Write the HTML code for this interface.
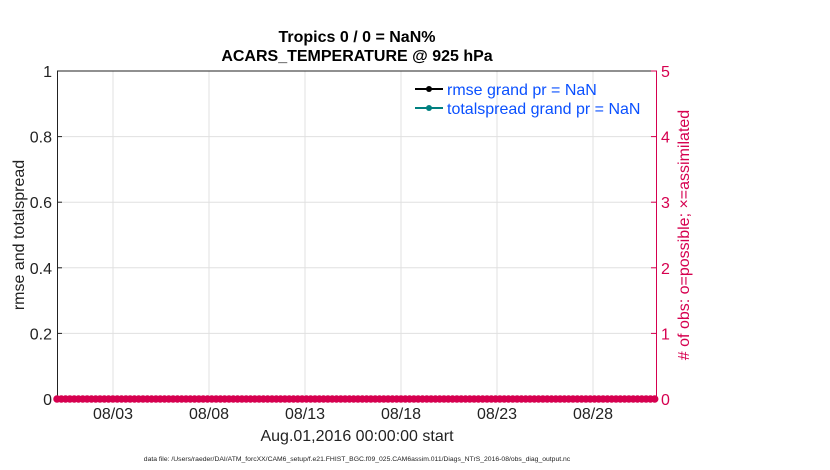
<!DOCTYPE html>
<html><head><meta charset="utf-8"><style>
html,body{margin:0;padding:0;background:#fff;}
svg{display:block;font-family:"Liberation Sans",Arial,sans-serif;}
</style></head><body>
<svg width="830" height="470" viewBox="0 0 830 470" xmlns="http://www.w3.org/2000/svg">
<rect width="830" height="470" fill="#fff"/>
<g stroke="#e0e0e0" stroke-width="1">
<line x1="113" y1="71" x2="113" y2="399"/>
<line x1="209" y1="71" x2="209" y2="399"/>
<line x1="305" y1="71" x2="305" y2="399"/>
<line x1="401" y1="71" x2="401" y2="399"/>
<line x1="497" y1="71" x2="497" y2="399"/>
<line x1="593" y1="71" x2="593" y2="399"/>
<line x1="57" y1="136.6" x2="657" y2="136.6"/>
<line x1="57" y1="202.2" x2="657" y2="202.2"/>
<line x1="57" y1="267.8" x2="657" y2="267.8"/>
<line x1="57" y1="333.4" x2="657" y2="333.4"/>
</g>
<line x1="57" y1="71" x2="657" y2="71" stroke="#222" stroke-width="1"/>
<line x1="57.5" y1="71" x2="57.5" y2="399" stroke="#222" stroke-width="1"/>
<line x1="656.5" y1="71" x2="656.5" y2="399" stroke="#d6004f" stroke-width="1"/>
<g stroke="#222">
<line x1="57" y1="136.6" x2="62" y2="136.6"/><line x1="57" y1="202.2" x2="62" y2="202.2"/>
<line x1="57" y1="267.8" x2="62" y2="267.8"/><line x1="57" y1="333.4" x2="62" y2="333.4"/>
</g>
<g stroke="#d6004f">
<line x1="651" y1="136.6" x2="657" y2="136.6"/><line x1="651" y1="202.2" x2="657" y2="202.2"/>
<line x1="651" y1="267.8" x2="657" y2="267.8"/><line x1="651" y1="333.4" x2="657" y2="333.4"/>
<line x1="651" y1="71" x2="657" y2="71"/>
</g>
<line x1="57" y1="399" x2="657" y2="399" stroke="#d6004f" stroke-width="4"/>
<line x1="57" y1="399" x2="657" y2="399" stroke="#d6004f" stroke-width="7.5" stroke-linecap="round" stroke-dasharray="0 4.3"/>
<g font-size="16" fill="#222" text-anchor="end">
<text x="52" y="77">1</text><text x="52" y="142.6">0.8</text><text x="52" y="208.2">0.6</text>
<text x="52" y="273.8">0.4</text><text x="52" y="339.4">0.2</text><text x="52" y="405">0</text>
</g>
<g font-size="16" fill="#d6004f">
<text x="661" y="77">5</text><text x="661" y="142.6">4</text><text x="661" y="208.2">3</text>
<text x="661" y="273.8">2</text><text x="661" y="339.4">1</text><text x="661" y="405">0</text>
</g>
<g font-size="16" fill="#222" text-anchor="middle">
<text x="113" y="419">08/03</text><text x="209" y="419">08/08</text><text x="305" y="419">08/13</text>
<text x="401" y="419">08/18</text><text x="497" y="419">08/23</text><text x="593" y="419">08/28</text>
<text x="357" y="441">Aug.01,2016 00:00:00 start</text>
</g>
<text x="24" y="235" font-size="16" fill="#222" text-anchor="middle" transform="rotate(-90 24 235)">rmse and totalspread</text>
<text x="689" y="235" font-size="16" fill="#d6004f" text-anchor="middle" transform="rotate(-90 689 235)"># of obs: o=possible; ×=assimilated</text>
<g font-size="16" font-weight="bold" fill="#000" text-anchor="middle">
<text x="357" y="42">Tropics 0 / 0 = NaN%</text>
<text x="357" y="61">ACARS_TEMPERATURE @ 925 hPa</text>
</g>
<line x1="415" y1="89" x2="443" y2="89" stroke="#000" stroke-width="2"/>
<circle cx="429" cy="89" r="3" fill="#000"/>
<line x1="415" y1="108" x2="443" y2="108" stroke="#008080" stroke-width="2"/>
<circle cx="429" cy="108" r="3" fill="#008080"/>
<g font-size="16" fill="#0a50ff">
<text x="447" y="95">rmse grand pr = NaN</text>
<text x="447" y="114">totalspread grand pr = NaN</text>
</g>
<text x="357" y="461" font-size="6.8" fill="#222" text-anchor="middle">data file: /Users/raeder/DAI/ATM_forcXX/CAM6_setup/f.e21.FHIST_BGC.f09_025.CAM6assim.011/Diags_NTrS_2016-08/obs_diag_output.nc</text>
</svg>
</body></html>
